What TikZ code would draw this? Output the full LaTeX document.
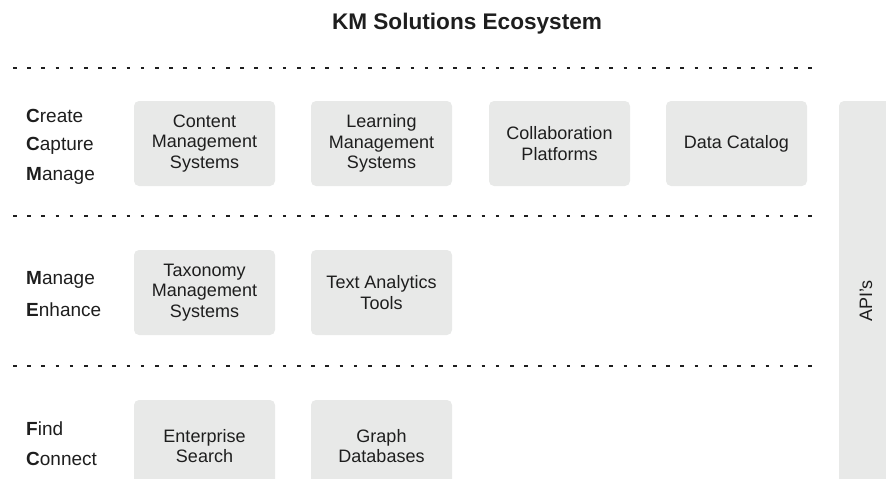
\documentclass[tikz,border=0pt]{standalone}
\usepackage{fontspec}
\setmainfont{Liberation Sans}
\usepackage{tikz}
\definecolor{boxgray}{RGB}{232,233,232}
\definecolor{inkgray}{RGB}{30,30,30}
\tikzset{
	tool/.style={fill=boxgray, rounded corners=5pt, minimum width=141pt, minimum height=85pt, inner sep=0pt, align=center, text=inkgray, font=\fontsize{18}{20.5}\selectfont},
	phase/.style={anchor=west, inner sep=0pt, text=inkgray, font=\fontsize{19}{22}\selectfont},
	layer/.style={draw=inkgray, line width=1.8pt, dash pattern=on 3.6pt off 10.6pt}
}

\begin{document}
\begin{tikzpicture}[yscale=-1]
			\useasboundingbox (0pt,0pt) rectangle (886pt,479pt);
			\node[text=inkgray, font=\fontsize{22.6}{26}\selectfont\bfseries] (title) at (467pt,24pt) {KM Solutions Ecosystem};
			% layer separators
			\coordinate (l1a) at (13pt,68pt);  \coordinate (l1b) at (820pt,68pt);
			\coordinate (l2a) at (13pt,216pt); \coordinate (l2b) at (820pt,216pt);
			\coordinate (l3a) at (13pt,366pt); \coordinate (l3b) at (820pt,366pt);
			\draw[layer] (l1a) -- (l1b);
			\draw[layer] (l2a) -- (l2b);
			\draw[layer] (l3a) -- (l3b);
			% create / capture / manage
			\node[phase] (create) at (26pt,116pt) {\textbf{C}reate};
			\node[phase] (capture) at (26pt,146pt) {\textbf{C}apture};
			\node[phase] (manage) at (26pt,176pt) {\textbf{M}anage};
			\node[tool] (cms) at (204.5pt,143.5pt) {Content\\Management\\Systems};
			\node[tool] (lms) at (381.5pt,143.5pt) {Learning\\Management\\Systems};
			\node[tool] (collab) at (559.5pt,143.5pt) {Collaboration\\Platforms};
			\node[tool] (catalog) at (736.5pt,143.5pt) {Data Catalog};
			% manage / enhance
			\node[phase] (manage2) at (26pt,280pt) {\textbf{M}anage};
			\node[phase] (enhance) at (26pt,310pt) {\textbf{E}nhance};
			\node[tool] (taxonomy) at (204.5pt,292.5pt) {Taxonomy\\Management\\Systems};
			\node[tool] (textan) at (381.5pt,292.5pt) {Text Analytics\\Tools};
			% find / connect
			\node[phase] (find) at (26pt,429pt) {\textbf{F}ind};
			\node[phase] (connect) at (26pt,459pt) {\textbf{C}onnect};
			\node[tool, minimum height=92pt] (search) at (204.5pt,446pt) {Enterprise\\Search};
			\node[tool, minimum height=92pt] (graphdb) at (381.5pt,446pt) {Graph\\Databases};
			% api bar
			\node[tool, rotate=90, minimum width=400pt, minimum height=54pt] (api) at (866pt,301pt) {API's};
		\end{tikzpicture}
\end{document}
